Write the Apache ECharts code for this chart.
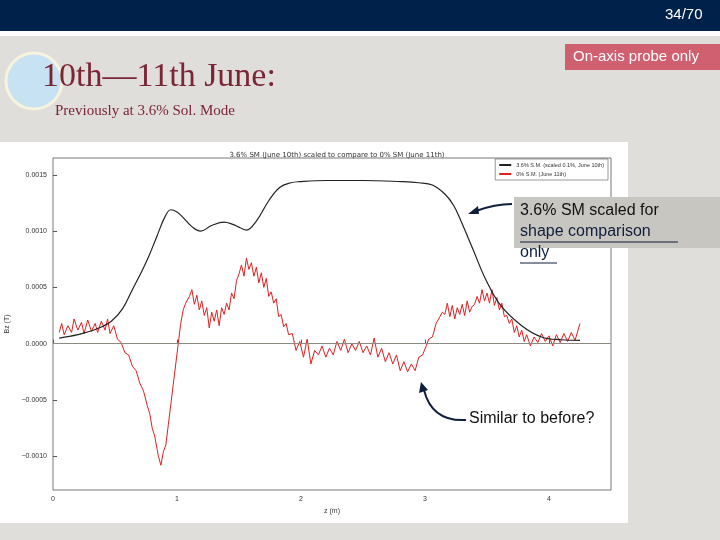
<!DOCTYPE html>
<html>
<head>
<meta charset="utf-8">
<script src="https://cdn.jsdelivr.net/npm/echarts@6/dist/echarts.min.js"></script>
<style>html,body{margin:0;padding:0;background:#dfdeda}#main{width:720px;height:540px}</style>
</head>
<body>
<div id="main"></div>
<script>
// values in 1e-4 T
const blackZ  = [0.05, 0.2, 0.35, 0.47, 0.56, 0.64, 0.71, 0.77, 0.84, 0.9, 0.95, 1.0, 1.05, 1.12, 1.19, 1.28, 1.38, 1.45, 1.51, 1.56, 1.64, 1.74, 1.83, 1.92, 1.99, 2.2, 2.5, 2.81, 2.95, 3.06, 3.16, 3.23, 3.29, 3.39, 3.49, 3.61, 3.78, 3.94, 4.1, 4.25];
const blackBz = [0.5, 0.8, 1.3, 2.0, 3.1, 4.8, 6.3, 7.7, 9.6, 11.2, 11.9, 11.7, 11.2, 10.4, 10.0, 10.5, 10.8, 10.6, 10.3, 10.1, 10.9, 12.7, 13.9, 14.3, 14.4, 14.5, 14.5, 14.4, 14.3, 14.1, 13.3, 12.3, 10.9, 8.3, 5.7, 3.4, 1.6, 0.6, 0.35, 0.3];

const redZ = [0.05,0.07,0.09,0.12,0.15,0.17,0.2,0.23,0.25,0.28,0.31,0.34,0.36,0.39,0.42,0.44,0.46,0.49,0.52,0.55,0.58,0.61,0.64,0.67,0.7,0.73,0.76,0.78,0.8,0.82,0.84,0.85,0.87,0.89,0.91,0.93,0.95,0.97,0.99,1.01,1.03,1.05,1.07,1.1,1.12,1.14,1.16,1.18,1.2,1.22,1.24,1.26,1.28,1.3,1.32,1.34,1.36,1.38,1.4,1.42,1.44,1.46,1.48,1.5,1.52,1.54,1.56,1.58,1.6,1.62,1.64,1.66,1.68,1.7,1.72,1.74,1.76,1.78,1.8,1.82,1.84,1.86,1.88,1.9,1.93,1.96,1.99,2.02,2.05,2.08,2.11,2.14,2.17,2.2,2.23,2.26,2.29,2.32,2.35,2.38,2.41,2.44,2.47,2.5,2.53,2.56,2.59,2.62,2.65,2.68,2.71,2.74,2.77,2.8,2.83,2.86,2.89,2.92,2.95,2.98,3.01,3.03,3.06,3.09,3.12,3.14,3.16,3.18,3.2,3.22,3.24,3.26,3.28,3.3,3.32,3.34,3.36,3.38,3.4,3.42,3.44,3.46,3.48,3.5,3.52,3.54,3.56,3.58,3.6,3.62,3.64,3.66,3.68,3.7,3.72,3.74,3.76,3.78,3.8,3.82,3.85,3.88,3.91,3.94,3.97,4.0,4.03,4.06,4.09,4.12,4.15,4.18,4.21,4.25];
const redBz = [1.0,1.8,0.8,1.6,1.0,2.2,1.2,1.9,0.9,2.1,1.1,1.8,1.0,2.0,1.2,2.2,0.9,1.6,0.4,0.1,-0.8,-1.0,-2.0,-2.4,-3.5,-4.2,-5.5,-6.2,-7.5,-8.2,-9.4,-10.0,-10.8,-9.6,-9.0,-7.2,-5.4,-3.6,-1.8,0.0,1.8,3.0,3.6,4.2,4.8,3.5,4.3,3.0,3.8,2.5,3.2,1.4,2.8,2.0,3.0,1.6,3.2,2.6,3.6,3.0,4.5,4.0,5.6,6.2,7.0,6.0,7.6,6.6,7.2,6.0,6.8,5.4,6.3,5.0,5.8,4.2,4.6,3.6,4.0,2.4,2.6,1.5,1.8,0.8,0.9,-0.6,0.2,-1.2,0.4,-1.8,-0.6,-1.0,-0.2,-1.2,-0.4,-1.0,0.2,-0.6,0.4,-0.8,0.0,-0.6,0.2,-0.8,-0.2,-1.0,0.5,-1.2,-0.4,-1.6,-0.8,-1.8,-1.0,-2.4,-1.6,-2.5,-1.8,-2.4,-1.2,-1.0,-0.2,0.4,0.6,1.8,2.4,2.8,2.6,3.6,2.4,3.4,2.2,3.2,2.6,3.5,2.5,3.8,2.8,3.3,3.5,4.2,3.6,4.8,3.8,4.5,3.6,4.8,3.4,4.1,3.0,3.6,2.4,2.5,1.8,2.2,1.0,1.6,0.6,1.2,0.2,0.8,-0.2,0.6,0.1,0.9,0.2,0.7,-0.2,0.8,0.1,0.9,0.2,1.0,0.3,1.8];

const yTicks = [-0.001, -0.0005, 0, 0.0005, 0.001, 0.0015];
const xTicks = [0, 1, 2, 3, 4];

const toPairs = (zs, bs) => zs.map((z, i) => [z, bs[i] * 1e-4]);

const navy = '#0f1e3c';
const txt = (x, y, text, fill, font) => ({ type: 'text', x, y, style: { text, fill, font } });

const chart = echarts.init(document.getElementById('main'));
chart.setOption({
  backgroundColor: '#dfdeda',
  animation: false,
  title: {
    text: '3.6% SM (June 10th) scaled to compare to 0% SM (June 11th)',
    left: 332, top: 147, textAlign: 'center',
    textStyle: { fontSize: 7, fontWeight: 'normal', color: '#333', fontFamily: 'DejaVu Sans' }
  },
  legend: {
    right: 112, top: 159, orient: 'vertical', itemWidth: 12, itemHeight: 2, itemGap: 3,
    backgroundColor: '#fff', borderColor: '#555', borderWidth: 0.6, padding: [3, 4],
    textStyle: { fontSize: 5.5, color: '#333' },
    data: [{ name: '3.6% S.M. (scaled 0.1%, June 10th)', icon: 'rect' }, { name: '0% S.M. (June 11th)', icon: 'rect' }]
  },
  grid: { left: 53, right: 109, top: 158, bottom: 50, outerBoundsMode: 'none', containLabel: false,
    show: true, borderColor: '#555', borderWidth: 0.8, backgroundColor: '#fff' },
  xAxis: {
    type: 'value', min: 0, max: 4.5, interval: 1, name: 'z (m)', nameLocation: 'middle', nameGap: 14,
    nameTextStyle: { fontSize: 7, color: '#333' },
    splitLine: { show: false }, axisLine: { show: false },
    axisTick: { inside: true, length: 4, lineStyle: { color: '#555' }, customValues: xTicks },
    axisLabel: { fontSize: 7, color: '#333', margin: 6, customValues: xTicks }
  },
  yAxis: {
    type: 'value', min: -0.0013, max: 0.00165, name: 'Bz (T)', nameLocation: 'middle', nameGap: 38,
    nameTextStyle: { fontSize: 7, color: '#333' },
    splitLine: { show: false }, axisLine: { show: false },
    axisTick: { inside: true, length: 4, lineStyle: { color: '#555' }, customValues: yTicks },
    axisLabel: { fontSize: 7, color: '#333', margin: 6, customValues: yTicks,
      formatter: v => (v < 0 ? '\u2212' : '') + Math.abs(v).toFixed(4) }
  },
  series: [
    { name: '3.6% S.M. (scaled 0.1%, June 10th)', type: 'line', smooth: 0.4, symbol: 'none',
      color: '#222', lineStyle: { width: 1.2, color: '#222' }, data: toPairs(blackZ, blackBz), z: 3 },
    { name: '0% S.M. (June 11th)', type: 'line', symbol: 'none', color: '#e02020',
      lineStyle: { width: 1, color: '#e02020' }, data: toPairs(redZ, redBz), z: 2,
      markLine: { silent: true, symbol: 'none', label: { show: false },
        lineStyle: { color: '#8a8a80', type: 'solid', width: 1 }, data: [{ yAxis: 0 }] } }
  ],
  graphic: [
    { type: 'rect', z: -10, shape: { x: 0, y: 142, width: 628, height: 381 }, style: { fill: '#fff' } },
    { type: 'rect', shape: { x: 0, y: 0, width: 720, height: 31 }, style: { fill: '#00224a' } },
    { type: 'rect', shape: { x: 0, y: 31, width: 720, height: 5 }, style: { fill: '#fff' } },
    txt(665, 7, '34/70', '#fff', '15px "Liberation Sans", Arial'),
    { type: 'circle', shape: { cx: 34, cy: 81, r: 28 }, style: { fill: '#c7e2f3', stroke: '#f7f3dc', lineWidth: 3 } },
    txt(42, 60, '10th\u201411th June:', '#7b2535', '34px "Liberation Serif", serif'),
    txt(55, 104, 'Previously at 3.6% Sol. Mode', '#7b2535', '15px "Liberation Serif", serif'),
    { type: 'rect', shape: { x: 565, y: 44, width: 160, height: 26 }, style: { fill: '#d05f70' } },
    txt(573, 49, 'On-axis probe only', '#fff', '15px "Liberation Sans", Arial'),
    { type: 'rect', shape: { x: 514, y: 197, width: 210, height: 51 }, style: { fill: '#c8c6c0' } },
    txt(520, 203, '3.6% SM scaled for', '#111', '16px "Liberation Sans", Arial'),
    txt(520, 224, 'shape comparison', navy, '16px "Liberation Sans", Arial'),
    txt(520, 245, 'only', navy, '16px "Liberation Sans", Arial'),
    { type: 'line', shape: { x1: 520, y1: 242, x2: 678, y2: 242 }, style: { stroke: navy, lineWidth: 1 } },
    { type: 'line', shape: { x1: 520, y1: 263, x2: 557, y2: 263 }, style: { stroke: navy, lineWidth: 1 } },
    txt(469, 411, 'Similar to before?', '#111', '16px "Liberation Sans", Arial'),
    { type: 'bezierCurve', shape: { x1: 512, y1: 204, cpx1: 495, cpy1: 204, x2: 476, y2: 211 }, style: { stroke: navy, lineWidth: 2, fill: null } },
    { type: 'polygon', shape: { points: [[468, 214], [478, 206], [479, 214]] }, style: { fill: navy } },
    { type: 'bezierCurve', shape: { x1: 466, y1: 420, cpx1: 432, cpy1: 422, x2: 424, y2: 390 }, style: { stroke: navy, lineWidth: 2, fill: null } },
    { type: 'polygon', shape: { points: [[421, 382], [419, 393], [428, 390]] }, style: { fill: navy } }
  ]
});
</script>
</body>
</html>
